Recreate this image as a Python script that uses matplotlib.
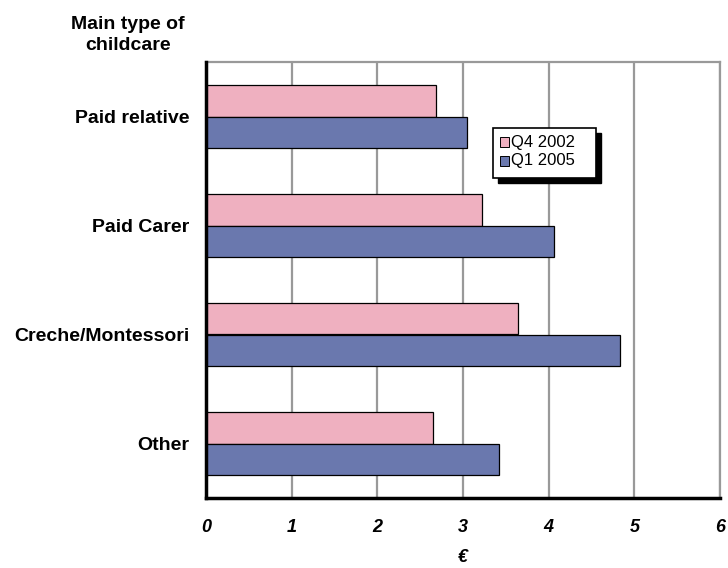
import matplotlib
matplotlib.use("Agg")
import matplotlib.pyplot as plt
import numpy as np
from matplotlib.patches import Rectangle

plt.rcParams['font.family'] = ['Liberation Sans', 'DejaVu Sans']

categories = ["Paid relative", "Paid Carer", "Creche/Montessori", "Other"]
q4_2002 = [2.69, 3.22, 3.64, 2.65]
q1_2005 = [3.05, 4.06, 4.83, 3.42]
series_names = ["Q4 2002", "Q1 2005"]
xticks = [0, 1, 2, 3, 4, 5, 6]

pink = "#EFB0C0"
blue = "#6A78AE"

fig = plt.figure(figsize=(7.28, 5.68), dpi=100)
ax = fig.add_axes([206/728, 1-498/568, (720-206)/728, (498-62)/568])

n = len(categories)
y = np.arange(n)
h = 0.285
ax.barh(y - h/2, q4_2002, height=h, color=pink, edgecolor="black", linewidth=0.9, label=series_names[0], zorder=3)
ax.barh(y + h/2, q1_2005, height=h, color=blue, edgecolor="black", linewidth=0.9, label=series_names[1], zorder=3)

ax.set_ylim(n - 0.5, -0.5)
ax.set_xlim(0, 6)
ax.set_yticks(y)
ax.set_yticklabels(categories, fontsize=14, fontweight='bold')
ax.set_xticks(xticks)
ax.set_xticklabels([str(t) for t in xticks], fontsize=13, fontweight='bold', style='italic')
ax.tick_params(axis='both', length=0)
ax.tick_params(axis='x', pad=15)
ax.tick_params(axis='y', pad=12)

ax.grid(axis='x', color='#999999', linewidth=1.6, zorder=0)
for s in ['top', 'right']:
    ax.spines[s].set_color('#999999')
    ax.spines[s].set_linewidth(1.6)
for s in ['left', 'bottom']:
    ax.spines[s].set_color('black')
    ax.spines[s].set_linewidth(2.5)
    ax.spines[s].set_zorder(5)

fig.text(463/728, 1-558/568, "€", ha='center', va='center',
         fontsize=13, fontweight='bold', style='italic')

fig.text(128/728, 1-35/568, "Main type of\nchildcare", ha='center', va='center',
         fontsize=14, fontweight='bold', linespacing=1.35)

# legend with shadow
lx0, ly0, lw, lh = 493/728, 1-178/568, 103/728, 50/568
shadow = Rectangle((lx0 + 5/728, ly0 - 5/568), lw, lh, transform=fig.transFigure,
                   facecolor='black', edgecolor='black', zorder=10)
fig.add_artist(shadow)
box = Rectangle((lx0, ly0), lw, lh, transform=fig.transFigure,
                facecolor='white', edgecolor='black', linewidth=1.2, zorder=11)
fig.add_artist(box)
for i, (name, col) in enumerate(zip(series_names, [pink, blue])):
    yy = 1 - (142 + i*19)/568
    sq = Rectangle((500/728, yy - 4.5/568), 9/728, 9/568, transform=fig.transFigure,
                   facecolor=col, edgecolor='black', linewidth=0.7, zorder=12)
    fig.add_artist(sq)
    fig.text(511/728, yy, name, ha='left', va='center', fontsize=12, zorder=12)

fig.savefig("out.png", dpi=100)
